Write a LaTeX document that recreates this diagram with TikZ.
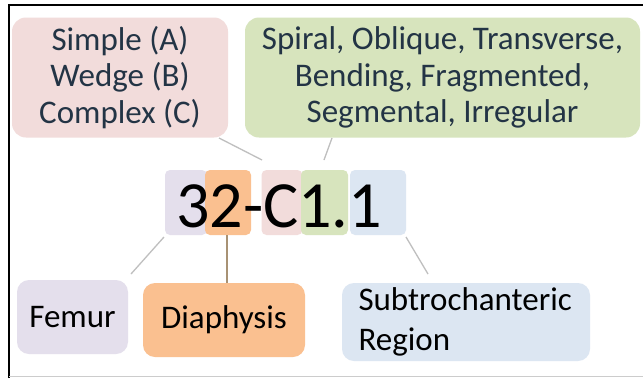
\documentclass[tikz,border=0pt]{standalone}
\usepackage{fontspec}
\setmainfont{Carlito}
\definecolor{pinkbox}{HTML}{F2DCDB}
\definecolor{greenbox}{HTML}{D7E4BD}
\definecolor{purplebox}{HTML}{E4DFEC}
\definecolor{orangebox}{HTML}{FAC090}
\definecolor{bluebox}{HTML}{DCE6F2}
\definecolor{toptext}{HTML}{233445}
\definecolor{linegray}{HTML}{BFBFBF}
\definecolor{linetan}{HTML}{A89274}
\begin{document}
\begin{tikzpicture}[x=1pt,y=-1pt,
  bigbox/.style={rounded corners=14pt, inner sep=0pt, align=center,
    font=\fontsize{33}{36.5}\selectfont},
  codebox/.style={rounded corners=5pt, inner sep=0pt, minimum height=65pt},
  lowbox/.style={rounded corners=12pt, inner sep=0pt,
    font=\fontsize{33}{40}\selectfont, text=black},
  conn/.style={linegray, line width=1.3pt}
]
\useasboundingbox (0,0) rectangle (643,378);
\fill[white] (0,0) rectangle (643,378);
% frame
\draw[black, line width=2pt] (9,378) -- (9,5) -- (643,5);
\draw[gray!40, line width=1pt] (9,376.5) -- (643,376.5);

% top boxes
\node[bigbox, fill=pinkbox, text=toptext, minimum width=216pt, minimum height=120pt]
  (types) at (120,77.5) {Simple (A)\\Wedge (B)\\Complex (C)};
\node[bigbox, fill=greenbox, text=toptext, minimum width=395pt, minimum height=120pt]
  (groups) at (442.5,77.5) {Spiral, Oblique, Transverse,\\Bending, Fragmented,\\Segmental, Irregular};

% code boxes
\node[codebox, fill=purplebox, minimum width=42pt] (cfemur) at (186,202.5) {};
\node[codebox, fill=bluebox, minimum width=56pt] (cregion) at (378,202.5) {};
\node[codebox, fill=pinkbox, minimum width=41pt] (ctype) at (282,202.5) {};
\node[codebox, fill=greenbox, minimum width=47pt] (cgroup) at (324.5,202.5) {};
\node[codebox, fill=orangebox, minimum width=46pt] (cdia) at (228,202.5) {};
\node[anchor=base west, inner sep=0pt, font=\fontsize{66}{66}\selectfont, text=black]
  (code) at (176,227) {32-C1.1};

% bottom boxes
\node[lowbox, fill=purplebox, minimum width=111pt, minimum height=74pt]
  (femur) at (72.5,317) {Femur};
\node[lowbox, fill=orangebox, minimum width=162pt, minimum height=74pt]
  (dia) at (224,320) {Diaphysis};
\node[lowbox, fill=bluebox, minimum width=248pt, minimum height=78pt, align=left,
  text width=215pt]
  (region) at (466,322) {Subtrochanteric\\Region};

% connectors
\coordinate (t1) at (219,138);
\coordinate (t2) at (262,160);
\coordinate (g1) at (332,138);
\coordinate (g2) at (324,160);
\coordinate (f1) at (164,237);
\coordinate (f2) at (131,274);
\coordinate (d1) at (227,235);
\coordinate (r1) at (406,237);
\coordinate (r2) at (428,274);
\draw[conn] (t1) -- (t2);
\draw[conn] (g1) -- (g2);
\draw[conn] (f1) -- (f2);
\draw[linetan, line width=1.3pt] (d1) -- (dia.north -| d1);
\draw[conn] (r1) -- (r2);
\end{tikzpicture}
\end{document}
